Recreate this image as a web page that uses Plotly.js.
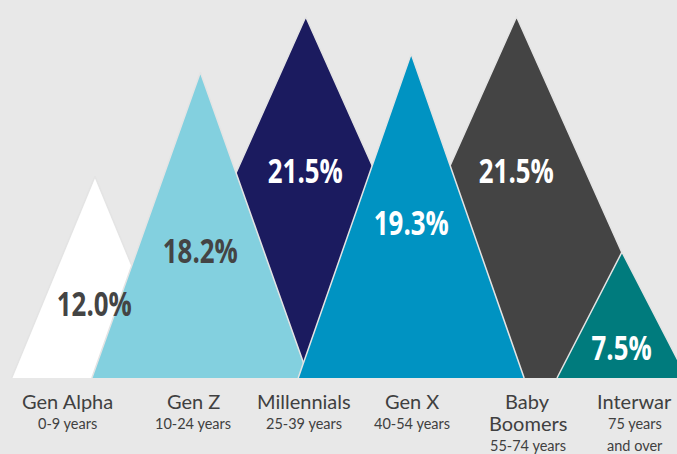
<!DOCTYPE html>
<html>
<head>
<meta charset="utf-8">
<script src="https://cdn.plot.ly/plotly-3.0.1.min.js"></script>
<style>
  html, body { margin: 0; padding: 0; background: #e8e8e8; }
  #chart { width: 677px; height: 454px; }
</style>
</head>
<body>
<div id="chart"></div>
<script>
// ---- data ----
const nameLines = [["Gen Alpha"], ["Gen Z"], ["Millennials"], ["Gen X"], ["Baby", "Boomers"], ["Interwar"]];
const ageLines  = [["0-9 years"], ["10-24 years"], ["25-39 years"], ["40-54 years"], ["55-74 years"], ["75 years", "and over"]];
const shares    = [12.0, 18.2, 21.5, 19.3, 21.5, 7.5];

// ---- style ----
const kinds      = ["tri", "tri", "dia", "tri", "dia", "tri"];
const fills      = ["#ffffff", "#83d0df", "#1b1b5f", "#0093c2", "#444444", "#007b7d"];
const textColors = ["#444444", "#444444", "#ffffff", "#ffffff", "#ffffff", "#ffffff"];
const labelFrac  = [0.37, 0.42, 0.576, 0.48, 0.576, 0.246];
const nameShift  = [-27, -7, -2, 1, 11, 13];
const drawOrder  = [2, 4, 0, 1, 3, 5];
const TRI_A = 0.327, TRI_B = 0.0386;   // triangle half-base = A + B * share (category units)
const DIA = 0.0712;                    // diamond half-width per percentage point
const W = 677, H = 454;

const traces = [];
drawOrder.forEach(i => {
  const v = shares[i];
  let xs, ys;
  if (kinds[i] === "tri") {
    const hw = TRI_A + TRI_B * v;
    xs = [i - hw, i, i + hw];
    ys = [0, v, 0];
  } else if (i === shares.length - 2 && kinds[i + 1] === "tri" && shares[i + 1] < v) {
    const nxt = shares[i + 1];
    const xr = i + DIA * (v - nxt);
    xs = [i - DIA * v, i, xr, xr];
    ys = [0, v, nxt, 0];
  } else {
    xs = [i - DIA * v, i, i + DIA * v];
    ys = [0, v, 0];
  }
  traces.push({
    type: "scatter", mode: "lines", x: xs, y: ys, fill: "toself",
    fillcolor: fills[i], line: {color: "#e4e4e4", width: 1.5},
    hoverinfo: "skip", showlegend: false
  });
});

const annotations = [];
shares.forEach((v, i) => {
  annotations.push({
    x: i, y: v * labelFrac[i], xref: "x", yref: "y",
    text: "<b>" + v.toFixed(1) + "%</b>", showarrow: false,
    font: {family: "Open Sans, sans-serif", size: 34, color: textColors[i]},
    xanchor: "center", yanchor: "middle"
  });
  const lines = nameLines[i].map(t => ({t, big: true})).concat(ageLines[i].map(t => ({t, big: false})));
  const rows = [401, 423, 445];
  lines.forEach((ln, k) => {
    annotations.push({
      x: i, xref: "x", xshift: nameShift[i],
      y: 1 - rows[k] / H, yref: "paper",
      text: ln.t, showarrow: false,
      font: {family: "Lato, Open Sans, sans-serif", size: ln.big ? 20 : 14.5, color: "#404040"},
      xanchor: "center", yanchor: "middle"
    });
  });
});

const layout = {
  width: W, height: H,
  margin: {l: 0, r: 0, t: 0, b: 0},
  paper_bgcolor: "#e8e8e8", plot_bgcolor: "#e8e8e8",
  xaxis: {range: [-0.901, 5.522], visible: false, fixedrange: true},
  yaxis: {range: [-4.524, 22.5], visible: false, fixedrange: true},
  annotations: annotations,
  showlegend: false
};

Plotly.newPlot("chart", traces, layout, {staticPlot: true, displayModeBar: false}).then(gd => {
  // condense the big percentage labels horizontally
  gd.querySelectorAll("text.annotation-text").forEach(t => {
    if (t.textContent.trim().endsWith("%")) {
      const b = t.getBBox();
      const cx = b.x + b.width / 2;
      t.setAttribute("transform", `translate(${cx},0) scale(0.76,1) translate(${-cx},0)`);
    }
  });
});
</script>
</body>
</html>
